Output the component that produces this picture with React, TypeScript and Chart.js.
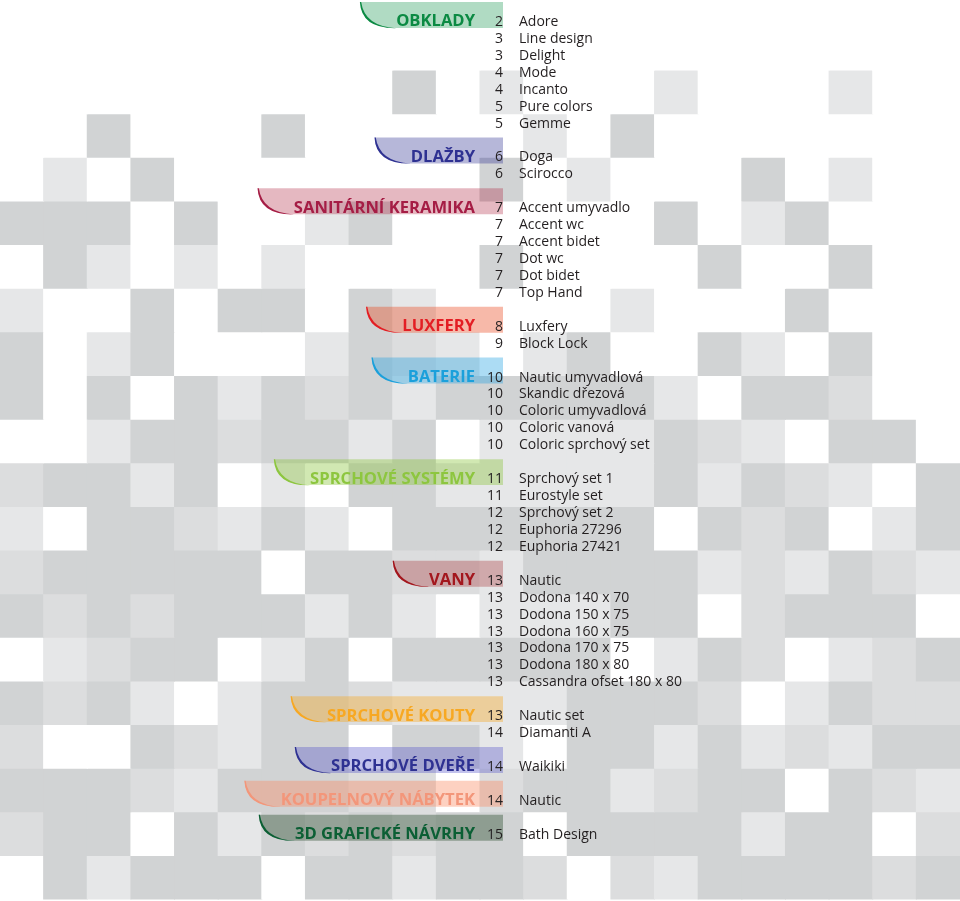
import React, { useEffect, useRef } from "react";
import { Chart, registerables } from "chart.js";

Chart.register(...registerables);

// ---- background mosaic (shade level per cell: 0 white, 1 light, 2 mid, 3 dark) ----
const MOSAIC_COLUMNS = ["1","2","3","4","5","6","7","8","9","10","11","12","13","14","15","16","17","18","19","20","21","22"];
const MOSAIC_ROWS = [
  "0000000000000000000000",
  "0000000003010001000100",
  "0030003000001030000000",
  "0103000000030100030100",
  "3330300130000003013000",
  "0310101000030000300300",
  "1003033031000010003000",
  "3013000132101300310300",
  "3030313231333331033200",
  "0013323313011113210330",
  "2331301033111113132103",
  "1033213103333330323013",
  "2333330332213333121321",
  "3232333131011133023330",
  "0123301303333301320123",
  "3231013321111333201322",
  "2003213303310331312133",
  "3332133322023312330321",
  "2330313232330333313302",
  "0313330331332021333323",
];
const SHADES = ["#ffffff", "#e6e7e8", "#dcddde", "#d1d3d4"];

// ---- sections (tabs) ----
const SECTION_NAMES = [
  "OBKLADY",
  "DLAŽBY",
  "SANITÁRNÍ KERAMIKA",
  "LUXFERY",
  "BATERIE",
  "SPRCHOVÉ SYSTÉMY",
  "VANY",
  "SPRCHOVÉ KOUTY",
  "SPRCHOVÉ DVEŘE",
  "KOUPELNOVÝ NÁBYTEK",
  "3D GRAFICKÉ NÁVRHY",
];
const SECTION_TEXT_COLORS = [
  "#0b8a43", "#2e3192", "#a51d45", "#e31e24", "#1ba0db", "#8dc63f",
  "#a3161d", "#f7a823", "#2e3192", "#f3967a", "#0b5f34",
];
const SECTION_TAB_FILLS = [
  "rgba(0,140,60,0.31)", "rgba(46,49,146,0.35)", "rgba(170,20,50,0.30)",
  "rgba(235,70,30,0.38)", "rgba(30,160,225,0.37)", "rgba(140,198,63,0.40)",
  "rgba(160,25,30,0.30)", "rgba(247,166,30,0.38)", "rgba(80,80,200,0.35)",
  "rgba(250,140,100,0.40)", "rgba(60,90,65,0.45)",
];

// ---- items ----
const ITEM_NAMES = [
  "Adore", "Line design", "Delight", "Mode", "Incanto", "Pure colors", "Gemme",
  "Doga", "Scirocco",
  "Accent umyvadlo", "Accent wc", "Accent bidet", "Dot wc", "Dot bidet", "Top Hand",
  "Luxfery", "Block Lock",
  "Nautic umyvadlová", "Skandic dřezová", "Coloric umyvadlová", "Coloric vanová", "Coloric sprchový set",
  "Sprchový set 1", "Eurostyle set", "Sprchový set 2", "Euphoria 27296", "Euphoria 27421",
  "Nautic", "Dodona 140 x 70", "Dodona 150 x 75", "Dodona 160 x 75", "Dodona 170 x 75", "Dodona 180 x 80", "Cassandra ofset 180 x 80",
  "Nautic set", "Diamanti A",
  "Waikiki",
  "Nautic",
  "Bath Design",
];
const ITEM_PAGES = [
  2, 3, 3, 4, 4, 5, 5,
  6, 6,
  7, 7, 7, 7, 7, 7,
  8, 9,
  10, 10, 10, 10, 10,
  11, 11, 12, 12, 12,
  13, 13, 13, 13, 13, 13, 13,
  13, 14,
  14,
  14,
  15,
];
const ITEM_SECTIONS = [
  0, 0, 0, 0, 0, 0, 0,
  1, 1,
  2, 2, 2, 2, 2, 2,
  3, 3,
  4, 4, 4, 4, 4,
  5, 5, 5, 5, 5,
  6, 6, 6, 6, 6, 6, 6,
  7, 7,
  8,
  9,
  10,
];

// layout constants (pixels from chart area left)
const LABEL_RIGHT = 475;
const TAB_RIGHT = 503;
const PAGE_RIGHT = 503;
const ITEM_LEFT = 519;

// row index of each item: one blank row between sections
const ITEM_ROWS: number[] = [];
{
  let row = -1;
  let prev = -1;
  ITEM_SECTIONS.forEach((s) => {
    row += prev !== -1 && s !== prev ? 2 : 1;
    ITEM_ROWS.push(row);
    prev = s;
  });
}
const SECTION_FIRST_ROW = SECTION_NAMES.map((_, s) => ITEM_ROWS[ITEM_SECTIONS.indexOf(s)]);

const tocPlugin = {
  id: "toc",
  afterDatasetsDraw(chart: any) {
    const ctx: CanvasRenderingContext2D = chart.ctx;
    const ys = chart.scales.rows;
    const x0 = chart.chartArea.left;
    ctx.save();

    // tabs with labels
    ctx.font = 'bold 16.6px "Open Sans"';
    SECTION_NAMES.forEach((name, s) => {
      const r = SECTION_FIRST_ROW[s];
      const c = ys.getPixelForValue(r);
      const T = ys.getPixelForValue(r - 1.12);
      const B = ys.getPixelForValue(r + 0.41);
      const w = ctx.measureText(name).width;
      const textLeft = x0 + LABEL_RIGHT - w;
      const L = textLeft - 36;
      const E = textLeft - 1;
      const R = x0 + TAB_RIGHT;

      ctx.beginPath();
      ctx.moveTo(L, T);
      ctx.lineTo(R, T);
      ctx.lineTo(R, B);
      ctx.lineTo(E, B);
      ctx.quadraticCurveTo(L + 2, B, L, T);
      ctx.closePath();
      ctx.fillStyle = SECTION_TAB_FILLS[s];
      ctx.fill();

      // swoosh (thin crescent along the curved edge)
      ctx.beginPath();
      ctx.moveTo(L - 0.3, T);
      ctx.quadraticCurveTo(L + 1.2, B + 0.8, E + 1, B + 0.2);
      ctx.quadraticCurveTo(L + 4.5, B - 1.6, L + 1, T);
      ctx.closePath();
      ctx.fillStyle = SECTION_TEXT_COLORS[s];
      ctx.fill();

      ctx.textAlign = "right";
      ctx.textBaseline = "alphabetic";
      ctx.fillText(name, x0 + LABEL_RIGHT, c + 5.5);
    });

    // pages + item names
    ctx.font = '14px "Open Sans"';
    ctx.fillStyle = "#231f20";
    ctx.textBaseline = "alphabetic";
    ITEM_NAMES.forEach((name, i) => {
      const c = ys.getPixelForValue(ITEM_ROWS[i]);
      ctx.textAlign = "right";
      ctx.fillText(String(ITEM_PAGES[i]), x0 + PAGE_RIGHT, c + 5);
      ctx.textAlign = "left";
      ctx.fillText(name, x0 + ITEM_LEFT, c + 5);
    });
    ctx.restore();
  },
};

export default function App() {
  const ref = useRef<HTMLCanvasElement | null>(null);
  useEffect(() => {
    if (!ref.current) return;
    const chart = new Chart(ref.current, {
      type: "bar",
      data: {
        labels: MOSAIC_COLUMNS,
        datasets: MOSAIC_ROWS.map((row, k) => ({
          label: "row " + (k + 1),
          data: MOSAIC_COLUMNS.map(() => 1),
          backgroundColor: row.split("").map((ch) => SHADES[Number(ch)]),
          borderWidth: 0,
          barPercentage: 1,
          categoryPercentage: 1,
          inflateAmount: 0.5,
          stack: "mosaic",
        })),
      },
      options: {
        responsive: false,
        devicePixelRatio: 1,
        animation: false,
        events: [],
        layout: { padding: 0 },
        plugins: { legend: { display: false }, tooltip: { enabled: false } },
        scales: {
          x: { type: "category", stacked: true, display: false, offset: true },
          y: { type: "linear", stacked: true, reverse: true, min: -0.605, max: 20.043, display: false },
          rows: { type: "linear", reverse: true, min: -1.2403, max: 51.975, display: false },
        },
      } as any,
      plugins: [tocPlugin],
    });
    return () => chart.destroy();
  }, []);
  return (
    <div style={{ position: "fixed", left: 0, top: 0, width: 960, height: 901, background: "#ffffff" }}>
      <canvas ref={ref} width={960} height={901} style={{ display: "block", width: 960, height: 901 }} />
    </div>
  );
}
